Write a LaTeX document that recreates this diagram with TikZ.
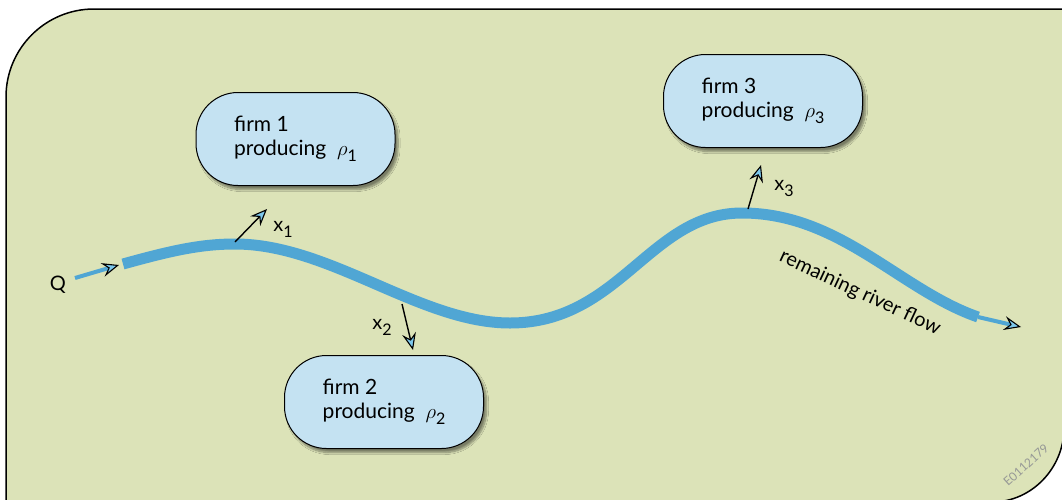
\documentclass[tikz,border=0pt]{standalone}
\usepackage{fontspec}
\setmainfont{Lato}
\usetikzlibrary{arrows.meta,shadows.blur}

\newlength{\du}
\setlength{\du}{1pt}

\definecolor{fieldgreen}{RGB}{220,227,184}
\definecolor{firmblue}{RGB}{196,226,242}
\definecolor{riverblue}{RGB}{80,166,212}
\definecolor{tipblue}{RGB}{125,200,236}
\definecolor{stampgray}{RGB}{150,152,150}

\newcommand{\lowidx}[1]{\raisebox{-0.3em}{\fontsize{16}{16}\selectfont #1}}

\tikzset{
  firm/.style={draw=black, line width=1\du, fill=firmblue, rounded corners=42\du,
    minimum width=199\du, minimum height=93\du, align=left,
    font=\fontsize{21}{24}\selectfont,
    blur shadow={shadow xshift=3\du, shadow yshift=-4\du, shadow blur steps=8, shadow opacity=45}},
  tipped/.style={-{Stealth[length=17pt, width=14pt, inset=6pt, color=black, fill=tipblue, line width=1.1pt]}},
  river/.style={draw=riverblue, line width=11\du, line cap=butt},
  flow/.style={draw=riverblue, line width=4\du, tipped},
  take/.style={draw=black, line width=1.4\du, tipped},
  lbl/.style={font=\fontsize{20}{20}\selectfont, inner sep=0pt}
}

\begin{document}
\begin{tikzpicture}
\pgftransformxscale{1.000000}
\pgftransformyscale{-1.000000}
\useasboundingbox (0\du,0\du) rectangle (1062\du,499\du);
% field
\path[fill=fieldgreen, draw=black, line width=1.5\du]
  (6\du,502\du) -- (6\du,97\du)
  .. controls (6\du,48.4\du) and (45.4\du,9\du) .. (94\du,9\du)
  -- (1064\du,9\du) -- (1064\du,428\du)
  .. controls (1064\du,467.8\du) and (1031.8\du,502\du) .. (992\du,502\du) -- cycle;
% river
\coordinate (q) at (75\du,278\du);
\coordinate (qend) at (119\du,265\du);
\coordinate (r0) at (123\du,264\du);
\coordinate (r1) at (235\du,244\du);
\coordinate (r2) at (510\du,323\du);
\coordinate (r3) at (742\du,213\du);
\coordinate (r4) at (978\du,317\du);
\coordinate (out) at (1021\du,327\du);
\draw[river] (r0) .. controls (170\du,251\du) and (200\du,244\du) .. (r1)
  .. controls (330\du,244\du) and (420\du,323\du) .. (r2)
  .. controls (620\du,323\du) and (650\du,213\du) .. (r3)
  .. controls (840\du,213\du) and (900\du,290\du) .. (r4);
\draw[flow] (q) -- (qend);
\draw[flow] (r4) -- (out);
% firms
\node[firm] (firm1) at (295.5\du,139\du) {firm 1\\producing\ \ $\rho$\lowidx{1}};
\node[firm] (firm2) at (384\du,402\du) {firm 2\\producing\ \ $\rho$\lowidx{2}};
\node[firm] (firm3) at (763\du,101\du) {firm 3\\producing\ \ $\rho$\lowidx{3}};
% withdrawals
\coordinate (w1) at (235\du,242\du);
\coordinate (t1) at (267\du,209\du);
\coordinate (w2) at (402\du,304\du);
\coordinate (t2) at (413\du,350\du);
\coordinate (w3) at (748\du,209\du);
\coordinate (t3) at (761\du,165\du);
\draw[take] (w1) -- (t1);
\draw[take] (w2) -- (t2);
\draw[take] (w3) -- (t3);
% labels
\node[lbl] (qlbl) at (58\du,285\du) {Q};
\node[lbl] (x1) at (283\du,229\du) {x\lowidx{1}};
\node[lbl] (x2) at (382\du,327\du) {x\lowidx{2}};
\node[lbl] (x3) at (784\du,188\du) {x\lowidx{3}};
\node[lbl, rotate=-25] (rest) at (860\du,293\du) {remaining river flow};
\node[lbl, rotate=42, text=stampgray, font=\fontsize{12}{12}\selectfont] (stamp) at (1026\du,465\du) {E0112179};
\end{tikzpicture}
\end{document}
